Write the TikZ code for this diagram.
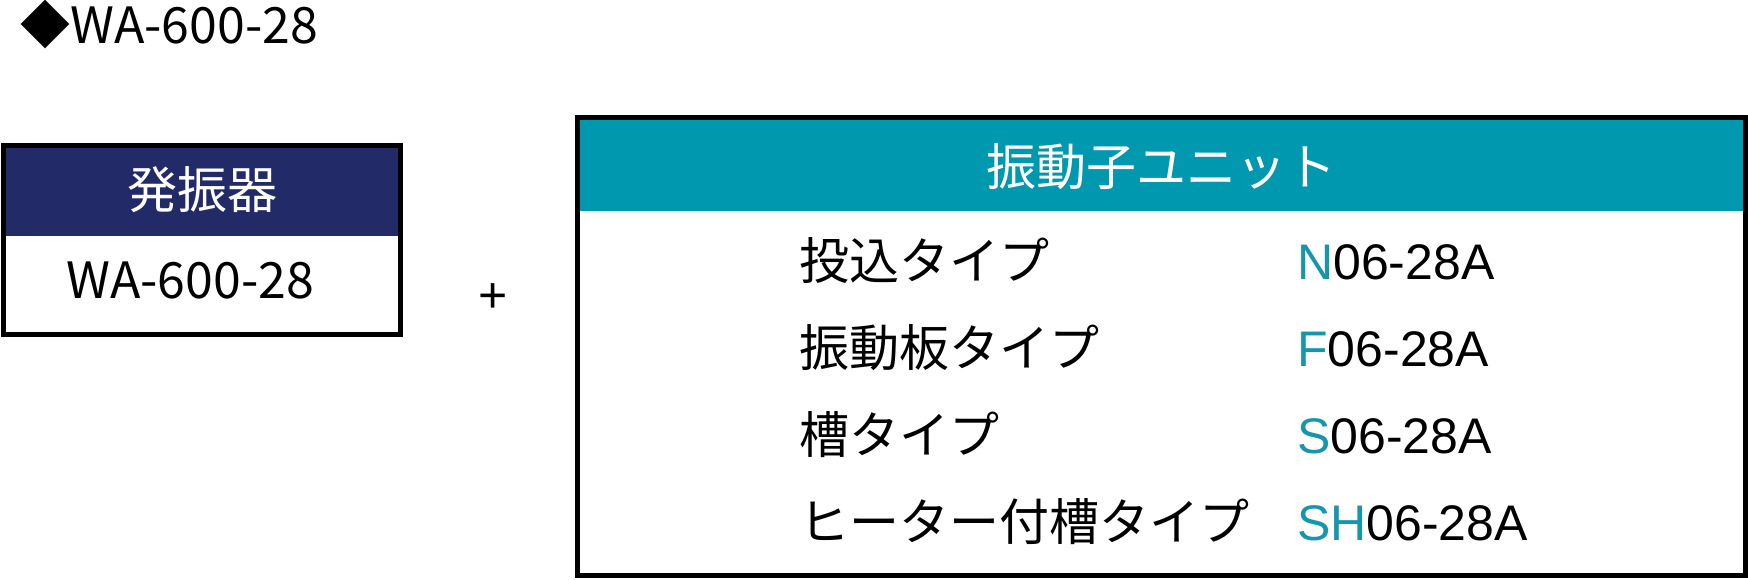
\documentclass[tikz,border=0pt]{standalone}
\usepackage{fontspec}
\setmainfont{Noto Sans CJK JP}
\newfontfamily\codefont{Liberation Sans}
\definecolor{navyhead}{RGB}{35,42,104}
\definecolor{tealhead}{RGB}{0,152,175}
\definecolor{tealcode}{RGB}{22,150,172}
\tikzstyle{frame}=[line width=3.75pt]
\tikzstyle{jptext}=[inner sep=0pt, font=\fontsize{37.5pt}{40pt}\selectfont]
\tikzstyle{codetext}=[inner sep=0pt, font=\codefont\fontsize{37.5pt}{40pt}\selectfont]

\begin{document}
\begin{tikzpicture}[x=0.75pt, y=-0.75pt]
  \useasboundingbox (0,0) rectangle (1748,579);
  \node[jptext, anchor=base west] (title) at (20,43) {◆WA-600-28};
  % oscillator box
  \fill[navyhead] (3.5,145) rectangle (400.5,236);
  \draw[frame] (3.5,145) rectangle (400.5,334.5);
  \node[jptext, text=white, anchor=base] (osc) at (202,208) {発振器};
  \node[jptext, anchor=base] (oscmodel) at (190,298) {WA-600-28};
  \node[codetext, anchor=base] (plus) at (493,312) {+};
  % transducer unit box
  \fill[tealhead] (577.5,117.5) rectangle (1745.5,211);
  \draw[frame] (577.5,117.5) rectangle (1745.5,575.5);
  \node[jptext, text=white, anchor=base] (unit) at (1161,185) {振動子ユニット};
  \foreach \typ/\pre/\rest [count=\i from 0] in
      {投込タイプ/N/06-28A, 振動板タイプ/F/06-28A,
       槽タイプ/S/06-28A, ヒーター付槽タイプ/SH/06-28A} {
    \node[jptext, anchor=base west] (type\i) at (799,{279+87.3*\i}) {\typ};
    \node[codetext, anchor=base west] (code\i) at (1297,{279+87.3*\i})
      {\textcolor{tealcode}{\pre}\rest};
  }
\end{tikzpicture}
\end{document}
